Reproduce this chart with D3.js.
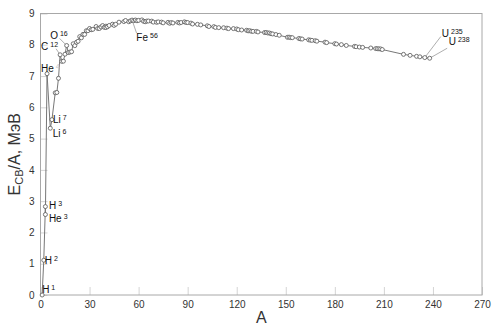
<!DOCTYPE html>
<html>
<head>
<meta charset="utf-8">
<script src="https://cdn.jsdelivr.net/npm/d3@7"></script>
<style>
  body { margin: 0; background: #fff; }
  text { font-family: "Liberation Sans", Arial, sans-serif; }
</style>
</head>
<body>
<div id="chart-area"></div>
<script>
// mass number A and binding energy per nucleon (MeV)
var massNumbers = [1, 2, 3, 3, 4, 6, 7, 9, 10, 11, 12, 13, 14, 15, 16, 17, 18, 19, 20, 21, 22, 23, 24, 25, 26, 27, 28, 29, 30, 31,
    32, 34, 35, 36, 37, 38, 39, 40, 40, 41, 42, 44, 45, 46, 48, 51, 52, 54, 55, 56, 57, 58, 59, 60, 62, 63, 64, 65, 66, 68,
    69, 71, 72, 74, 75, 78, 79, 80, 81, 84, 85, 86, 88, 89, 90, 92, 93, 96, 98, 102, 103, 106, 107, 109, 112, 114, 115, 118, 120, 121,
    123, 126, 127, 128, 129, 130, 132, 133, 137, 138, 139, 140, 141, 142, 144, 146, 151, 152, 153, 154, 158, 159, 160, 164, 165, 166, 168, 169, 174, 175,
    180, 181, 184, 187, 192, 193, 195, 197, 202, 205, 206, 207, 208, 209, 222, 226, 230, 232, 235, 238];
var bindingEnergy = [0, 1.112, 2.827, 2.573, 7.074, 5.332, 5.606, 6.463, 6.475, 6.928, 7.680, 7.470, 7.476, 7.699, 7.976, 7.751, 7.767, 7.779, 8.032, 7.972, 8.080, 8.112, 8.261, 8.223, 8.334, 8.332, 8.448, 8.449, 8.521, 8.481,
    8.493, 8.584, 8.520, 8.520, 8.570, 8.614, 8.557, 8.595, 8.551, 8.576, 8.617, 8.658, 8.619, 8.656, 8.723, 8.742, 8.776, 8.736, 8.765, 8.790, 8.770, 8.792, 8.768, 8.781, 8.795, 8.752, 8.736, 8.757, 8.760, 8.756,
    8.725, 8.718, 8.732, 8.725, 8.701, 8.718, 8.688, 8.711, 8.696, 8.717, 8.697, 8.712, 8.733, 8.714, 8.710, 8.693, 8.664, 8.654, 8.635, 8.607, 8.584, 8.580, 8.554, 8.548, 8.545, 8.532, 8.517, 8.517, 8.505, 8.482,
    8.472, 8.463, 8.445, 8.449, 8.431, 8.430, 8.428, 8.410, 8.392, 8.393, 8.378, 8.376, 8.354, 8.346, 8.327, 8.304, 8.239, 8.244, 8.229, 8.227, 8.202, 8.189, 8.183, 8.159, 8.147, 8.142, 8.130, 8.115, 8.084, 8.069,
    8.035, 8.023, 8.005, 7.978, 7.948, 7.938, 7.927, 7.916, 7.897, 7.878, 7.875, 7.870, 7.867, 7.848, 7.694, 7.662, 7.631, 7.615, 7.591, 7.570];

// labelled nuclides: index into the arrays above, symbol, mass superscript
var labelIndex = [0, 1, 2, 3, 4, 5, 6, 10, 14, 49, 138, 139];
var labelSymbol = ["H", "H", "H", "He", "He", "Li", "Li", "C", "O", "Fe", "U", "U"];
var labelMass = ["1", "2", "3", "3", "4", "6", "7", "12", "16", "56", "235", "238"];

var xTicks = [0, 30, 60, 90, 120, 150, 180, 210, 240, 270];
var yTicks = [0, 1, 2, 3, 4, 5, 6, 7, 8, 9];

var width = 500;
var height = 334;
var plot = {left: 40.5, right: 482, top: 13.5, bottom: 295};

var svg = d3.select("#chart-area").append("svg")
    .attr("width", width)
    .attr("height", height);

var x = d3.scaleLinear().domain([0, 270]).range([plot.left, plot.right]);
var y = d3.scaleLinear().domain([0, 9]).range([plot.bottom, plot.top]);

var bottomAxis = d3.axisBottom(x)
    .tickValues(xTicks)
    .tickSizeInner(-8)
    .tickSizeOuter(0)
    .tickPadding(6);
var gx = svg.append("g")
    .attr("transform", "translate(0," + plot.bottom + ")")
    .call(bottomAxis);

var leftAxis = d3.axisLeft(y)
    .tickValues(yTicks)
    .tickSizeInner(-7)
    .tickSizeOuter(0)
    .tickPadding(6);
var gy = svg.append("g")
    .attr("transform", "translate(" + plot.left + ",0)")
    .call(leftAxis);

[gx, gy].forEach(function(g) {
    g.select(".domain").remove();
    g.selectAll(".tick line").attr("stroke", "#d4d4d4");
    g.selectAll(".tick text")
        .attr("fill", "#333")
        .attr("font-size", "10px")
        .attr("font-family", "Liberation Sans, Arial, sans-serif");
});

// frame
svg.append("rect")
    .attr("x", plot.left)
    .attr("y", plot.top)
    .attr("width", plot.right - plot.left)
    .attr("height", plot.bottom - plot.top)
    .attr("fill", "none")
    .attr("stroke", "#a8a8a8")
    .attr("stroke-width", 1);

var points = massNumbers.map(function(a, i) { return {a: a, e: bindingEnergy[i]}; });

var line = d3.line()
    .x(function(d) { return x(d.a); })
    .y(function(d) { return y(d.e); });

svg.append("path")
    .datum(points)
    .attr("d", line)
    .attr("fill", "none")
    .attr("stroke", "#777")
    .attr("stroke-width", 1);

// label offsets from the point: text position and connector end
var labelLayout = [
    {dx: 0, dy: -2},
    {dx: 1, dy: 4},
    {dx: 3.5, dy: 2.5},
    {dx: 3.5, dy: 7},
    {dx: -6, dy: -2, faint: true},
    {dx: 2.5, dy: 8.5},
    {dx: 1, dy: 3.5},
    {dx: -19, dy: -5, lx: -4, ly: -6},
    {dx: -16.5, dy: -6.5, lx: -7, ly: -7},
    {dx: 4.3, dy: 20.5, lx: 4.5, ly: 13},
    {dx: 17, dy: -21, lx: 16, ly: -21},
    {dx: 19, dy: -13, lx: 17.5, ly: -10}
];

var labels = labelIndex.map(function(idx, i) {
    return {p: points[idx], sym: labelSymbol[i], mass: labelMass[i], lay: labelLayout[i]};
});

svg.selectAll(".connector")
    .data(labels.filter(function(d) { return d.lay.lx !== undefined; }))
    .enter().append("line")
    .attr("class", "connector")
    .attr("x1", function(d) { return x(d.p.a); })
    .attr("y1", function(d) { return y(d.p.e); })
    .attr("x2", function(d) { return x(d.p.a) + d.lay.lx; })
    .attr("y2", function(d) { return y(d.p.e) + d.lay.ly; })
    .attr("stroke", "#999")
    .attr("stroke-width", 0.8);

svg.selectAll(".pt")
    .data(points)
    .enter().append("circle")
    .attr("class", "pt")
    .attr("cx", function(d) { return x(d.a); })
    .attr("cy", function(d) { return y(d.e); })
    .attr("r", 2)
    .attr("fill", "#fff")
    .attr("stroke", "#555")
    .attr("stroke-width", 0.8);

var lbl = svg.selectAll(".lbl")
    .data(labels)
    .enter().append("text")
    .attr("class", "lbl")
    .attr("x", function(d) { return x(d.p.a) + d.lay.dx; })
    .attr("y", function(d) { return y(d.p.e) + d.lay.dy; })
    .attr("font-size", "10px")
    .attr("fill", "#111");
lbl.append("tspan").text(function(d) { return d.sym; });
lbl.append("tspan")
    .attr("dx", 2)
    .attr("dy", -3)
    .attr("font-size", "7px")
    .attr("fill", function(d) { return d.lay.faint ? "#c8c8c8" : "#111"; })
    .text(function(d) { return d.mass; });

// axis titles
svg.append("text")
    .attr("x", (plot.left + plot.right) / 2)
    .attr("y", 323)
    .attr("text-anchor", "middle")
    .attr("font-size", "16px")
    .attr("fill", "#333")
    .text("A");

var yl = svg.append("text")
    .attr("transform", "translate(20," + ((plot.top + plot.bottom) / 2) + ") rotate(-90)")
    .attr("text-anchor", "middle")
    .attr("font-size", "16px")
    .attr("fill", "#333");
yl.append("tspan").text("E");
yl.append("tspan").attr("font-size", "11px").attr("dy", 3).text("CB");
yl.append("tspan").attr("dy", -3).text("/A, МэВ");
</script>
</body>
</html>
